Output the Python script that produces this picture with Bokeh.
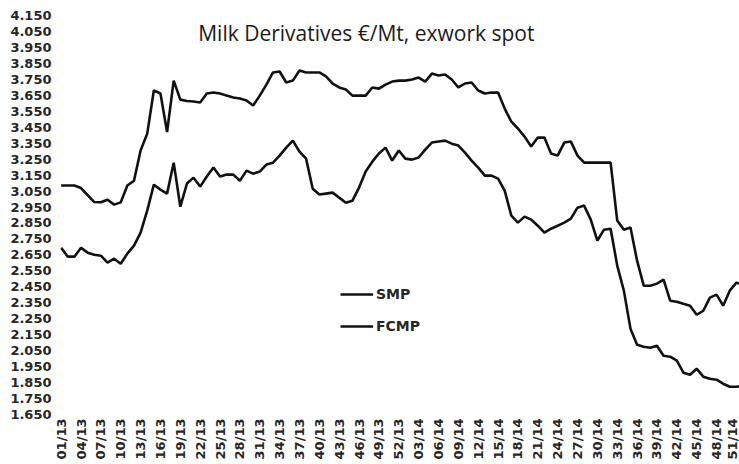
from bokeh.plotting import figure
from bokeh.models import Range1d, FixedTicker, Label, Legend, LegendItem, ColumnDataSource
from bokeh.embed import file_html
from bokeh.resources import INLINE
import math

# ---- data (EUR per metric tonne, weekly, 01/13 .. 52/14) ----
weeks = list(range(104))

fcmp = [3085, 3085, 3085, 3069, 3025, 2981, 2980, 2996, 2965, 2979,
        3085, 3115, 3304, 3410, 3680, 3661, 3420, 3742, 3623, 3614,
        3611, 3605, 3661, 3667, 3661, 3648, 3636, 3630, 3617, 3586,
        3648, 3717, 3793, 3799, 3730, 3742, 3805, 3793, 3793, 3793,
        3768, 3724, 3699, 3686, 3648, 3648, 3648, 3699, 3692, 3717,
        3736, 3742, 3742, 3749, 3761, 3736, 3786, 3774, 3780, 3749,
        3699, 3724, 3730, 3680, 3661, 3667, 3667, 3567, 3485, 3442,
        3391, 3329, 3385, 3385, 3285, 3272, 3354, 3360, 3272, 3228,
        3228, 3228, 3228, 3228, 2865, 2808, 2821, 2614, 2457, 2457,
        2470, 2495, 2363, 2357, 2344, 2332, 2275, 2300, 2382, 2401,
        2332, 2426, 2476, 2463]

smp = [2695, 2639, 2639, 2695, 2664, 2651, 2645, 2601, 2626, 2595,
       2658, 2708, 2790, 2927, 3090, 3059, 3034, 3228, 2952, 3097,
       3134, 3078, 3141, 3197, 3141, 3153, 3153, 3115, 3178, 3159,
       3172, 3216, 3228, 3272, 3322, 3366, 3297, 3253, 3065, 3028,
       3034, 3040, 3009, 2977, 2990, 3072, 3172, 3234, 3285, 3322,
       3241, 3304, 3253, 3247, 3260, 3310, 3354, 3360, 3366, 3347,
       3335, 3291, 3241, 3197, 3147, 3147, 3128, 3053, 2896, 2852,
       2890, 2871, 2833, 2789, 2814, 2833, 2852, 2877, 2946, 2959,
       2871, 2739, 2808, 2814, 2583, 2426, 2188, 2087, 2075, 2068,
       2081, 2018, 2012, 1987, 1912, 1899, 1937, 1887, 1874, 1868,
       1843, 1824, 1824, 1830]

x_tick_pos = list(range(0, 103, 3))
x_tick_labels = ["01/13", "04/13", "07/13", "10/13", "13/13", "16/13", "19/13",
                 "22/13", "25/13", "28/13", "31/13", "34/13", "37/13", "40/13",
                 "43/13", "46/13", "49/13", "52/13", "03/14", "06/14", "09/14",
                 "12/14", "15/14", "18/14", "21/14", "24/14", "27/14", "30/14",
                 "33/14", "36/14", "39/14", "42/14", "45/14", "48/14", "51/14"]

y_tick_pos = list(range(1650, 4151, 100))
y_tick_labels = ["1.650", "1.750", "1.850", "1.950", "2.050", "2.150", "2.250",
                 "2.350", "2.450", "2.550", "2.650", "2.750", "2.850", "2.950",
                 "3.050", "3.150", "3.250", "3.350", "3.450", "3.550", "3.650",
                 "3.750", "3.850", "3.950", "4.050", "4.150"]

title_text = "Milk Derivatives €/Mt, exwork spot"
series_names = ["SMP", "FCMP"]

src = ColumnDataSource(dict(week=weeks, smp=smp, fcmp=fcmp))

p = figure(width=739, height=464, output_backend="svg", toolbar_location=None,
           x_range=Range1d(-0.1, 102.47), y_range=Range1d(1650, 4150),
           min_border_left=60, min_border_right=0, min_border_top=15,
           min_border_bottom=50, background_fill_color="white",
           border_fill_color="white")
p.outline_line_color = None
p.grid.visible = False

for ax in (p.xaxis[0], p.yaxis[0]):
    ax.axis_line_color = None
    ax.major_tick_line_color = None
    ax.minor_tick_line_color = None
    ax.major_tick_out = 0
    ax.major_label_text_font = "DejaVu Sans"
    ax.major_label_text_font_style = "bold"
    ax.major_label_text_font_size = "13px"
    ax.major_label_text_color = "#262626"

p.xaxis.ticker = FixedTicker(ticks=x_tick_pos)
p.xaxis.major_label_overrides = {t: l for t, l in zip(x_tick_pos, x_tick_labels)}
p.xaxis.major_label_orientation = math.pi / 2
p.xaxis.major_label_standoff = 4

p.yaxis.ticker = FixedTicker(ticks=y_tick_pos)
p.yaxis.major_label_overrides = {t: l for t, l in zip(y_tick_pos, y_tick_labels)}
p.yaxis.major_label_standoff = 9

r_smp = p.line("week", "smp", source=src, line_color="#111111", line_width=2.6)
r_fcmp = p.line("week", "fcmp", source=src, line_color="#111111", line_width=2.6)

legend = Legend(items=[LegendItem(label=series_names[0], renderers=[r_smp]),
                       LegendItem(label=series_names[1], renderers=[r_fcmp])],
                location=(280, 78), orientation="vertical",
                glyph_width=33, glyph_height=20, label_height=20,
                label_standoff=3, spacing=12, padding=0, margin=0,
                border_line_color=None, background_fill_alpha=0,
                label_text_font="DejaVu Sans", label_text_font_style="bold",
                label_text_font_size="14px", label_text_color="#262626")
p.add_layout(legend, "center")

title = Label(x=46.1, y=4043, text=title_text, text_align="center",
              text_baseline="middle", text_font="Open Sans",
              text_font_size="21px", text_color="#1a1a1a")
p.add_layout(title)

open("out.html", "w").write(file_html(p, INLINE))
